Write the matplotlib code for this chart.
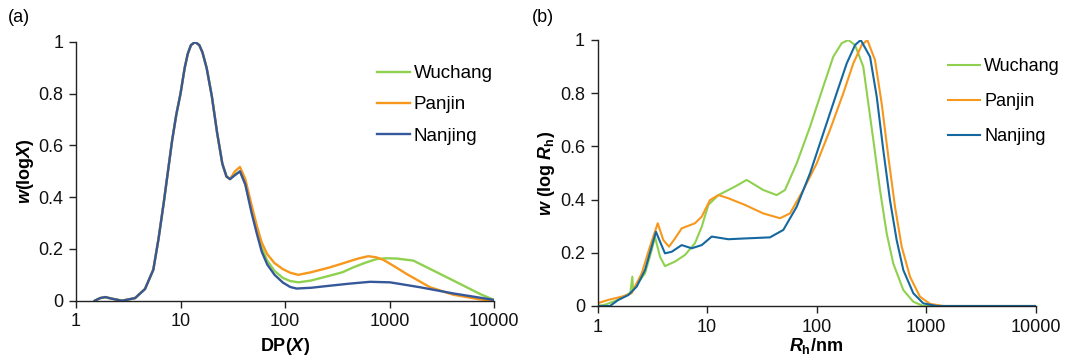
import numpy as np
import matplotlib
matplotlib.use("Agg")
import matplotlib.pyplot as plt

plt.rcParams['font.family'] = ['Liberation Sans', 'DejaVu Sans']
plt.rcParams['mathtext.fontset'] = 'custom'
plt.rcParams['mathtext.it'] = 'Liberation Sans:italic:bold'
plt.rcParams['mathtext.rm'] = 'Liberation Sans:bold'
plt.rcParams['mathtext.bf'] = 'Liberation Sans:bold'

# ---------------- Data (log10 of x, normalised weight) ----------------
# Panel (a): DP distribution -- part shared by all three samples
a_common_logx = [0.18, 0.23, 0.28, 0.34, 0.44, 0.565, 0.66, 0.74, 0.79, 0.84, 0.88,
                 0.92, 0.96, 1.0, 1.04, 1.07, 1.10, 1.14, 1.18, 1.21, 1.25, 1.30,
                 1.35, 1.40, 1.44, 1.474]
a_common_y = [0.0, 0.01, 0.014, 0.008, 0.0, 0.01, 0.045, 0.12, 0.24, 0.38, 0.50,
              0.62, 0.72, 0.80, 0.90, 0.955, 0.988, 1.0, 0.988, 0.96, 0.90, 0.79,
              0.65, 0.53, 0.48, 0.47]

a_wu_logx = [1.52, 1.569, 1.62, 1.68, 1.73, 1.777, 1.83, 1.90, 1.98, 2.05, 2.13,
             2.25, 2.431, 2.55, 2.654, 2.77, 2.877, 2.97, 3.069, 3.228, 3.452,
             3.675, 3.866, 4.0]
a_wu_y = [0.487, 0.5, 0.45, 0.35, 0.27, 0.205, 0.155, 0.115, 0.088, 0.076, 0.071,
          0.078, 0.097, 0.11, 0.129, 0.147, 0.161, 0.164, 0.163, 0.155, 0.11,
          0.065, 0.026, 0.003]

a_pj_logx = [1.52, 1.569, 1.62, 1.68, 1.73, 1.777, 1.83, 1.90, 1.98, 2.05, 2.127,
             2.25, 2.431, 2.59, 2.70, 2.797, 2.87, 2.941, 3.05, 3.165, 3.388,
             3.611, 3.866, 4.0]
a_pj_y = [0.5, 0.517, 0.47, 0.37, 0.29, 0.225, 0.18, 0.145, 0.122, 0.108, 0.10,
          0.11, 0.129, 0.149, 0.163, 0.172, 0.168, 0.158, 0.132, 0.103, 0.052,
          0.023, 0.005, 0.0]

a_nj_logx = [1.52, 1.569, 1.62, 1.68, 1.73, 1.777, 1.83, 1.90, 1.98, 2.05, 2.11,
             2.25, 2.431, 2.62, 2.813, 3.005, 3.292, 3.611, 4.0]
a_nj_y = [0.485, 0.5, 0.45, 0.34, 0.26, 0.19, 0.14, 0.10, 0.07, 0.053, 0.047,
          0.05, 0.058, 0.066, 0.073, 0.071, 0.052, 0.028, 0.003]

# Panel (b): hydrodynamic radius distribution
b_wu_logx = [0.0, 0.07, 0.2, 0.30, 0.318, 0.325, 0.34, 0.434, 0.495, 0.525, 0.571,
             0.616, 0.708, 0.799, 0.89, 0.952, 1.012, 1.104, 1.256, 1.362, 1.514,
             1.637, 1.712, 1.819, 1.941, 2.062, 2.153, 2.23, 2.29, 2.352, 2.427,
             2.519, 2.58, 2.641, 2.701, 2.793, 2.884, 2.975, 4.0]
b_wu_y = [0.0, 0.005, 0.025, 0.05, 0.11, 0.06, 0.07, 0.123, 0.21, 0.26, 0.185,
          0.15, 0.167, 0.192, 0.236, 0.298, 0.38, 0.417, 0.449, 0.474, 0.436,
          0.417, 0.436, 0.536, 0.674, 0.825, 0.937, 0.988, 1.0, 0.981, 0.90,
          0.624, 0.436, 0.273, 0.16, 0.06, 0.016, 0.0, 0.0]

b_pj_logx = [0.0, 0.099, 0.221, 0.312, 0.404, 0.479, 0.55, 0.601, 0.653, 0.708,
             0.769, 0.89, 0.952, 1.027, 1.104, 1.195, 1.347, 1.514, 1.667, 1.758,
             1.879, 2.002, 2.123, 2.245, 2.336, 2.413, 2.464, 2.534, 2.595, 2.656,
             2.717, 2.778, 2.854, 2.945, 3.037, 3.16, 4.0]
b_pj_y = [0.01, 0.023, 0.035, 0.048, 0.123, 0.223, 0.311, 0.248, 0.223, 0.254,
          0.292, 0.311, 0.336, 0.398, 0.417, 0.405, 0.38, 0.348, 0.33, 0.348,
          0.436, 0.536, 0.662, 0.80, 0.912, 0.981, 1.0, 0.925, 0.762, 0.561,
          0.373, 0.223, 0.11, 0.035, 0.008, 0.0, 0.0]

b_nj_logx = [0.0, 0.114, 0.19, 0.281, 0.358, 0.434, 0.495, 0.534, 0.571, 0.616,
             0.678, 0.769, 0.86, 0.952, 1.043, 1.195, 1.347, 1.575, 1.697, 1.819,
             1.941, 2.062, 2.184, 2.276, 2.352, 2.404, 2.489, 2.55, 2.61, 2.671,
             2.732, 2.793, 2.884, 2.975, 3.098, 4.0]
b_nj_y = [0.0, 0.0, 0.023, 0.041, 0.073, 0.135, 0.223, 0.279, 0.242, 0.198,
          0.204, 0.229, 0.217, 0.229, 0.261, 0.251, 0.254, 0.258, 0.286, 0.373,
          0.499, 0.649, 0.80, 0.912, 0.981, 1.0, 0.937, 0.787, 0.586, 0.398,
          0.248, 0.135, 0.048, 0.01, 0.0, 0.0]

names = ['Wuchang', 'Panjin', 'Nanjing']
green = '#8fd14f'
orange = '#f7971c'
blue_a = '#35589a'
blue_b = '#15689f'

# ---------------- Figure ----------------
fig = plt.figure(figsize=(10.66, 3.60), dpi=100)
axA = fig.add_axes([76/1066, 1-300.7/360, 418/1066, 258.7/360])
axB = fig.add_axes([597.5/1066, 1-306/360, 438/1066, 266/360])


def series_a(lx, ly):
    xs = 10 ** np.concatenate([np.array(a_common_logx), np.array(lx)])
    ys = np.concatenate([np.array(a_common_y), np.array(ly)])
    return xs, ys


lw = 1.7
x, y = series_a(a_wu_logx, a_wu_y)
axA.plot(x, y, color=green, lw=lw, label=names[0], solid_joinstyle='round')
x, y = series_a(a_pj_logx, a_pj_y)
axA.plot(x, y, color=orange, lw=lw, label=names[1], solid_joinstyle='round')
x, y = series_a(a_nj_logx, a_nj_y)
axA.plot(x, y, color=blue_a, lw=lw, label=names[2], solid_joinstyle='round')

axB.plot(10 ** np.array(b_wu_logx), b_wu_y, color=green, lw=1.5, label=names[0])
axB.plot(10 ** np.array(b_pj_logx), b_pj_y, color=orange, lw=1.5, label=names[1])
axB.plot(10 ** np.array(b_nj_logx), b_nj_y, color=blue_b, lw=1.5, label=names[2])

xticks = [1, 10, 100, 1000, 10000]
yticks = [0, 0.2, 0.4, 0.6, 0.8, 1]
ylabels = ['0', '0.2', '0.4', '0.6', '0.8', '1']
for ax in (axA, axB):
    ax.set_xscale('log')
    ax.set_xlim(1, 10000)
    ax.set_ylim(0, 1)
    ax.set_xticks(xticks)
    ax.set_xticklabels([str(t) for t in xticks])
    ax.xaxis.set_minor_locator(matplotlib.ticker.NullLocator())
    ax.set_yticks(yticks)
    ax.set_yticklabels(ylabels)
    for s in ('top', 'right'):
        ax.spines[s].set_visible(False)
    for s in ('left', 'bottom'):
        ax.spines[s].set_color('#222222')
        ax.spines[s].set_linewidth(1.0)
    ax.tick_params(axis='both', direction='out', length=5, width=1.0,
                   color='#222222', labelsize=13, labelcolor='#111111', pad=4)

axA.legend(loc='upper right', frameon=False, fontsize=13.5, handlelength=1.75,
           handletextpad=0.2, labelspacing=0.75, borderaxespad=0.0,
           bbox_to_anchor=(1.015, 0.94))
axB.legend(loc='upper right', frameon=False, fontsize=13, handlelength=1.8,
           handletextpad=0.2, labelspacing=1.0, borderaxespad=0.0,
           bbox_to_anchor=(1.072, 0.96))

axA.set_xlabel('DP($X$)', fontsize=13, fontweight='bold', labelpad=4)
axA.set_ylabel('$w$(log$X$)', fontsize=13, fontweight='bold', labelpad=2)
axB.set_xlabel('$R_{\\mathrm{h}}$/nm', fontsize=13, fontweight='bold', labelpad=0)
axB.set_ylabel('$w$ (log $R_{\\mathrm{h}}$)', fontsize=13, fontweight='bold', labelpad=2)

fig.text(8/1066, 1-18/360, '(a)', fontsize=13, va='center', ha='left')
fig.text(532/1066, 1-18/360, '(b)', fontsize=13, va='center', ha='left')

fig.savefig('out.png', dpi=100)
